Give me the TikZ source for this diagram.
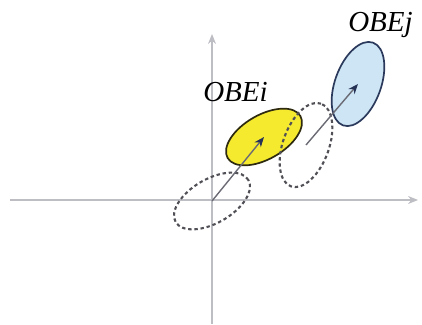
\documentclass[tikz,border=0pt]{standalone}
\usepackage{fontspec}
\setmainfont{Liberation Serif}
\usetikzlibrary{arrows.meta,shapes.geometric}
\begin{document}
\begin{tikzpicture}[x=1pt, y=1pt,
    obe/.style={ellipse, inner sep=0pt, line width=1.7pt},
    flat/.style={obe, minimum width=84pt, minimum height=44pt, rotate=30},
    tall/.style={obe, minimum width=88pt, minimum height=46pt, rotate=70},
    ghost/.style={draw=dashColour, dash pattern=on 3.4pt off 2.8pt, line width=2.1pt},
    move/.style={draw=lineColour, line width=1.4pt, -{Stealth[length=10pt,width=8pt,color=tipColour]}},
    lab/.style={font=\fontsize{29}{32}\selectfont\itshape, anchor=base}]
    % Define colours
    \definecolor{axisColour}{HTML}{BDBDC4}
    \definecolor{dashColour}{HTML}{505056}
    \definecolor{lineColour}{HTML}{6A6A74}
    \definecolor{tipColour}{HTML}{263256}
    \definecolor{yellowFill}{HTML}{F6EA2E}
    \definecolor{yellowLine}{HTML}{2E2A10}
    \definecolor{blueFill}{HTML}{CDE5F4}
    \definecolor{blueLine}{HTML}{2B3A5C}

    % Fix margins
    \useasboundingbox (-212,-124) rectangle (210,200);

    % Draw axes
    \draw[axisColour, line width=1.2pt, -{Stealth[length=10pt,width=8pt]}] (-202,0) -- (206,0);
    \draw[axisColour, line width=1.2pt, -{Stealth[length=10pt,width=8pt]}] (0,-124) -- (0,166);

    % OBEi: old position (dashed) and new position (yellow)
    \node[flat, ghost] (oldi) at (0,-1) {};
    \node[flat, draw=yellowLine, fill=yellowFill] (obei) at (52,63) {};

    % OBEj: old position (dashed) and new position (blue)
    \node[tall, ghost] (oldj) at (94,55) {};
    \node[tall, draw=blueLine, fill=blueFill] (obej) at (146,116) {};

    % Displacements
    \draw[move] (oldi.center) -- (obei.center);
    \draw[move] (oldj.center) -- (obej.center);

    % Labels
    \node[lab] (labi) at (23.5,98) {OBEi};
    \node[lab] (labj) at (168.5,168) {OBEj};
\end{tikzpicture}
\end{document}
